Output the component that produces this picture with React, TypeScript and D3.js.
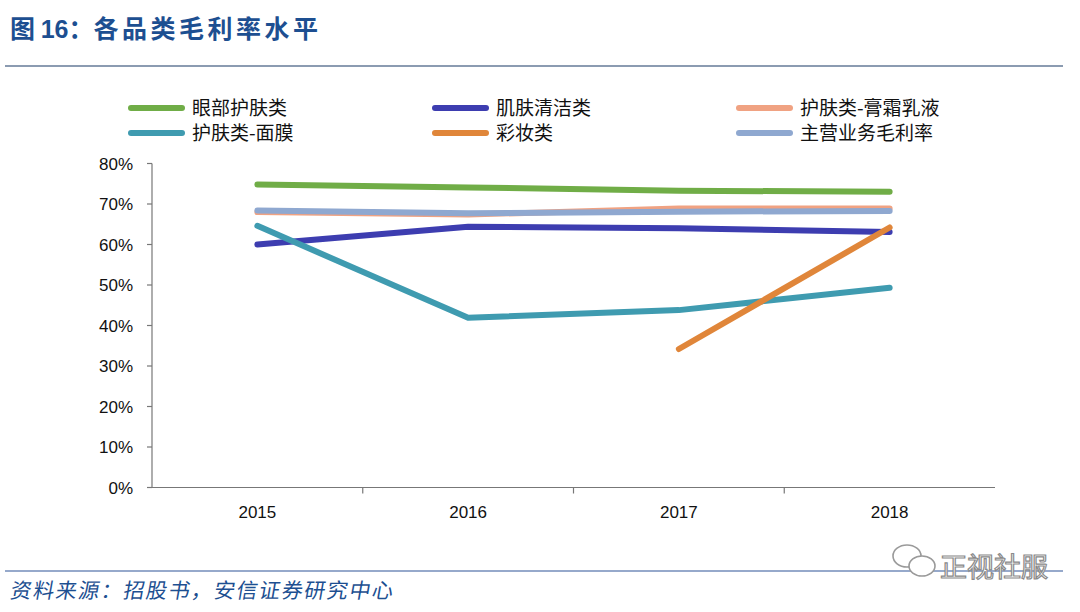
import React from "react";
import * as d3 from "d3";

const years = ["2015", "2016", "2017", "2018"];

const eyeCare = [0.748, 0.741, 0.733, 0.73];
const skinClean = [0.6, 0.644, 0.64, 0.631];
const creamLotion = [0.68, 0.674, 0.689, 0.689];
const mask = [0.646, 0.419, 0.438, 0.493];
const makeup = [null, null, 0.342, 0.642];
const mainBiz = [0.684, 0.677, 0.681, 0.683];

const yTicks = [0, 0.1, 0.2, 0.3, 0.4, 0.5, 0.6, 0.7, 0.8];

const seriesNames = [
  "眼部护肤类",
  "肌肤清洁类",
  "护肤类-膏霜乳液",
  "护肤类-面膜",
  "彩妆类",
  "主营业务毛利率",
];
const seriesColors = ["#70ad47", "#3d3db0", "#f0a282", "#3f9bb0", "#e0863a", "#8fa8d0"];
const seriesValues = [eyeCare, skinClean, creamLotion, mask, makeup, mainBiz];

const W = 1080;
const H = 612;
const plot = { left: 152, right: 995, top: 163.5, bottom: 487.5 };
const sans = "'Liberation Sans', Arial, 'Noto Sans CJK SC', sans-serif";
const cjk = "'Noto Sans CJK SC', 'Liberation Sans', sans-serif";

const App = () => {
  const x = d3.scaleBand().domain(years).range([plot.left, plot.right]);
  const y = d3.scaleLinear().domain([0, 0.8]).range([plot.bottom, plot.top]);
  const cx = (yr: string) => (x(yr) as number) + x.bandwidth() / 2;

  const line = d3
    .line<number | null>()
    .defined((d) => d !== null)
    .x((_, i) => cx(years[i]))
    .y((d) => y(d as number));

  // legend: 3 columns x 2 rows, filled row by row
  const legendCols = [128, 432, 736];
  const legendRows = [108, 133];

  return (
    <svg
      width={W}
      height={H}
      style={{ position: "absolute", left: 0, top: 0, background: "#fff" }}
    >
      {/* title */}
      <text x={10} y={38} fill="#1d4f91" fontFamily={cjk} fontSize={25} fontWeight="bold">
        图 <tspan fontFamily={sans}>16</tspan>：
        <tspan letterSpacing={3.5}>各品类毛利率水平</tspan>
      </text>
      <line x1={5} x2={1063} y1={66} y2={66} stroke="#8b9bb1" strokeWidth={2} />

      {/* legend */}
      {seriesNames.map((name, i) => {
        const lx = legendCols[i % 3];
        const ly = legendRows[Math.floor(i / 3)];
        return (
          <g key={name}>
            <line
              x1={lx + 3}
              x2={lx + 54}
              y1={ly}
              y2={ly}
              stroke={seriesColors[i]}
              strokeWidth={6}
              strokeLinecap="round"
            />
            <text x={lx + 64} y={ly + 7} fontFamily={cjk} fontSize={19} fill="#111">
              {name}
            </text>
          </g>
        );
      })}

      {/* y axis */}
      <line x1={plot.left} x2={plot.left} y1={plot.top} y2={plot.bottom} stroke="#777" strokeWidth={1.2} />
      {yTicks.map((t) => (
        <g key={t}>
          <line x1={plot.left - 5} x2={plot.left} y1={y(t)} y2={y(t)} stroke="#777" strokeWidth={1.2} />
          <text
            x={133}
            y={y(t) + 6}
            textAnchor="end"
            fontFamily={sans}
            fontSize={17}
            fill="#111"
          >
            {d3.format(".0%")(t)}
          </text>
        </g>
      ))}

      {/* x axis */}
      <line x1={plot.left} x2={plot.right} y1={plot.bottom} y2={plot.bottom} stroke="#777" strokeWidth={1.2} />
      {years.map((yr, i) => (
        <g key={yr}>
          {i > 0 && (
            <line
              x1={x(yr) as number}
              x2={x(yr) as number}
              y1={plot.bottom}
              y2={plot.bottom + 6}
              stroke="#777"
              strokeWidth={1.2}
            />
          )}
          <text x={cx(yr)} y={518} textAnchor="middle" fontFamily={sans} fontSize={17} fill="#111">
            {yr}
          </text>
        </g>
      ))}

      {/* series */}
      {seriesValues.map((vals, i) => (
        <path
          key={seriesNames[i]}
          d={line(vals) || ""}
          fill="none"
          stroke={seriesColors[i]}
          strokeWidth={6}
          strokeLinecap="round"
          strokeLinejoin="round"
        />
      ))}

      {/* footer */}
      <line x1={5} x2={1063} y1={571} y2={571} stroke="#2f5597" strokeWidth={1.2} />
      <text
        x={10}
        y={598}
        fontFamily={cjk}
        fontSize={21}
        letterSpacing={1.6}
        fill="#1d4f91"
        transform="skewX(-10) translate(105,0)"
      >
        资料来源：招股书，安信证券研究中心
      </text>

      {/* watermark */}
      <g fill="none" stroke="#9a9a9a" strokeWidth={1.6}>
        <ellipse cx={907} cy={556} rx={14} ry={11} />
        <ellipse cx={922} cy={566} rx={13} ry={10} fill="#fff" />
      </g>
      <text
        x={940}
        y={577}
        fontFamily={cjk}
        fontSize={27}
        fill="#fff"
        stroke="#8a8a8a"
        strokeWidth={1.2}
      >
        正视社服
      </text>
    </svg>
  );
};

export default App;
